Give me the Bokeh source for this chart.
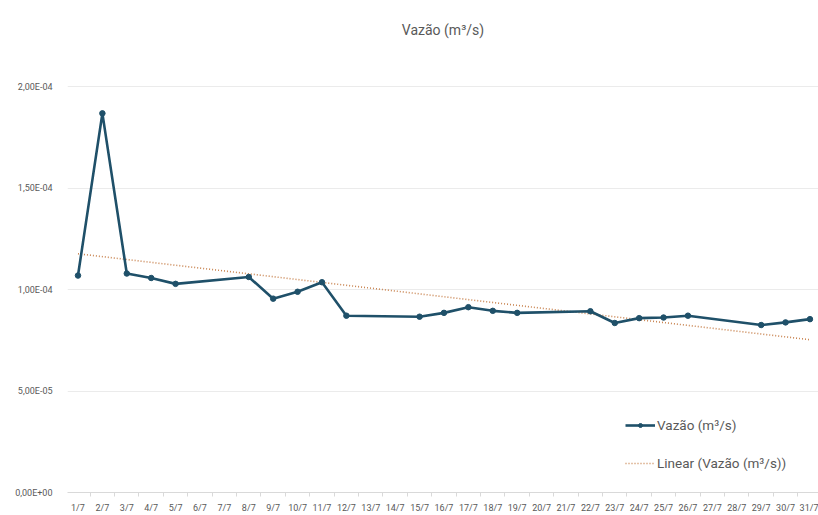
from bokeh.plotting import figure
from bokeh.models import (Range1d, FixedTicker, CustomJSTickFormatter, Legend,
                          LegendItem, ColumnDataSource)
from bokeh.embed import file_html
from bokeh.resources import INLINE
import numpy as np

# Daily flow measurements for July (weekdays only)
days = [1, 2, 3, 4, 5, 8, 9, 10, 11, 12, 15, 16, 17, 18, 19, 22, 23, 24, 25, 26, 29, 30, 31]
vazao = [1.07e-4, 1.87e-4, 1.08e-4, 1.058e-4, 1.029e-4, 1.063e-4, 9.56e-5, 9.90e-5,
         1.037e-4, 8.72e-5, 8.67e-5, 8.86e-5, 9.14e-5, 8.96e-5, 8.86e-5, 8.94e-5,
         8.36e-5, 8.60e-5, 8.63e-5, 8.72e-5, 8.26e-5, 8.39e-5, 8.55e-5]
day_labels = [f"{d}/7" for d in range(1, 32)]
y_ticks = [0.0, 5e-5, 1e-4, 1.5e-4, 2e-4]

series_name = "Vazão (m³/s)"
trend_name = "Linear (Vazão (m³/s))"

LINE_COLOR = "#1F5069"
TREND_COLOR = "#C98552"
TEXT_COLOR = "#595959"
FONT = "Roboto"

# Least-squares trend over the measured days
slope, intercept = np.polyfit(days, vazao, 1)
trend_x = [1, 31]
trend_y = [intercept + slope * x for x in trend_x]

p = figure(width=818, height=515, output_backend="svg", toolbar_location=None,
           x_range=Range1d(0.57, 31.35), y_range=Range1d(0, 2.18e-4),
           min_border_left=67, min_border_right=0, min_border_top=50,
           min_border_bottom=18, title=series_name)

p.title.align = "center"
p.title.text_font = FONT
p.title.text_font_size = "14px"
p.title.text_font_style = "normal"
p.title.text_color = TEXT_COLOR
p.title.standoff = 25
p.outline_line_color = None
p.background_fill_color = "white"
p.border_fill_color = "white"

src = ColumnDataSource(dict(x=days, y=vazao))
trend = p.line(trend_x, trend_y, line_color=TREND_COLOR, line_width=1.6, line_dash="1 2")
ln = p.line("x", "y", source=src, line_color=LINE_COLOR, line_width=2.6)
pts = p.scatter("x", "y", source=src, size=5.5, fill_color=LINE_COLOR, line_color=LINE_COLOR)

# x axis: one label per day, small ticks between days
xa = p.xaxis[0]
xa.ticker = FixedTicker(ticks=list(range(1, 32)), minor_ticks=[d + 0.5 for d in range(0, 31)])
xa.major_label_overrides = {i + 1: lbl for i, lbl in enumerate(day_labels)}
xa.major_tick_line_color = None
xa.minor_tick_line_color = "#D9D9D9"
xa.minor_tick_out = 4
xa.minor_tick_in = 0
xa.axis_line_color = "#D9D9D9"
xa.major_label_text_font = FONT
xa.major_label_text_font_size = "9px"
xa.major_label_text_color = TEXT_COLOR
xa.major_label_standoff = 4

ya = p.yaxis[0]
ya.ticker = FixedTicker(ticks=y_ticks)
ya.formatter = CustomJSTickFormatter(code="""
    if (tick === 0) { return "0,00E+00"; }
    const e = Math.floor(Math.log10(Math.abs(tick)) + 1e-9);
    const m = tick / Math.pow(10, e);
    const s = (e < 0 ? "-" : "+") + String(Math.abs(e)).padStart(2, "0");
    return m.toFixed(2).replace(".", ",") + "E" + s;
""")
ya.axis_line_color = None
ya.major_tick_line_color = None
ya.minor_tick_line_color = None
ya.major_label_text_font = FONT
ya.major_label_text_font_size = "9px"
ya.major_label_text_color = TEXT_COLOR
ya.major_label_standoff = 9

p.xgrid.grid_line_color = None
p.ygrid.grid_line_color = "#EBEBEB"
p.ygrid.ticker = FixedTicker(ticks=y_ticks)

legend = Legend(items=[LegendItem(label=series_name, renderers=[ln, pts]),
                       LegendItem(label=trend_name, renderers=[trend])],
                location=(558, 19), orientation="vertical")
legend.label_text_font = FONT
legend.label_text_font_size = "13.5px"
legend.label_text_color = TEXT_COLOR
legend.glyph_width = 30
legend.glyph_height = 10
legend.label_height = 20
legend.label_standoff = 2
legend.spacing = 18
legend.padding = 0
legend.margin = 0
legend.border_line_color = None
legend.background_fill_alpha = 0
p.add_layout(legend, "center")

open("out.html", "w").write(file_html(p, INLINE))
